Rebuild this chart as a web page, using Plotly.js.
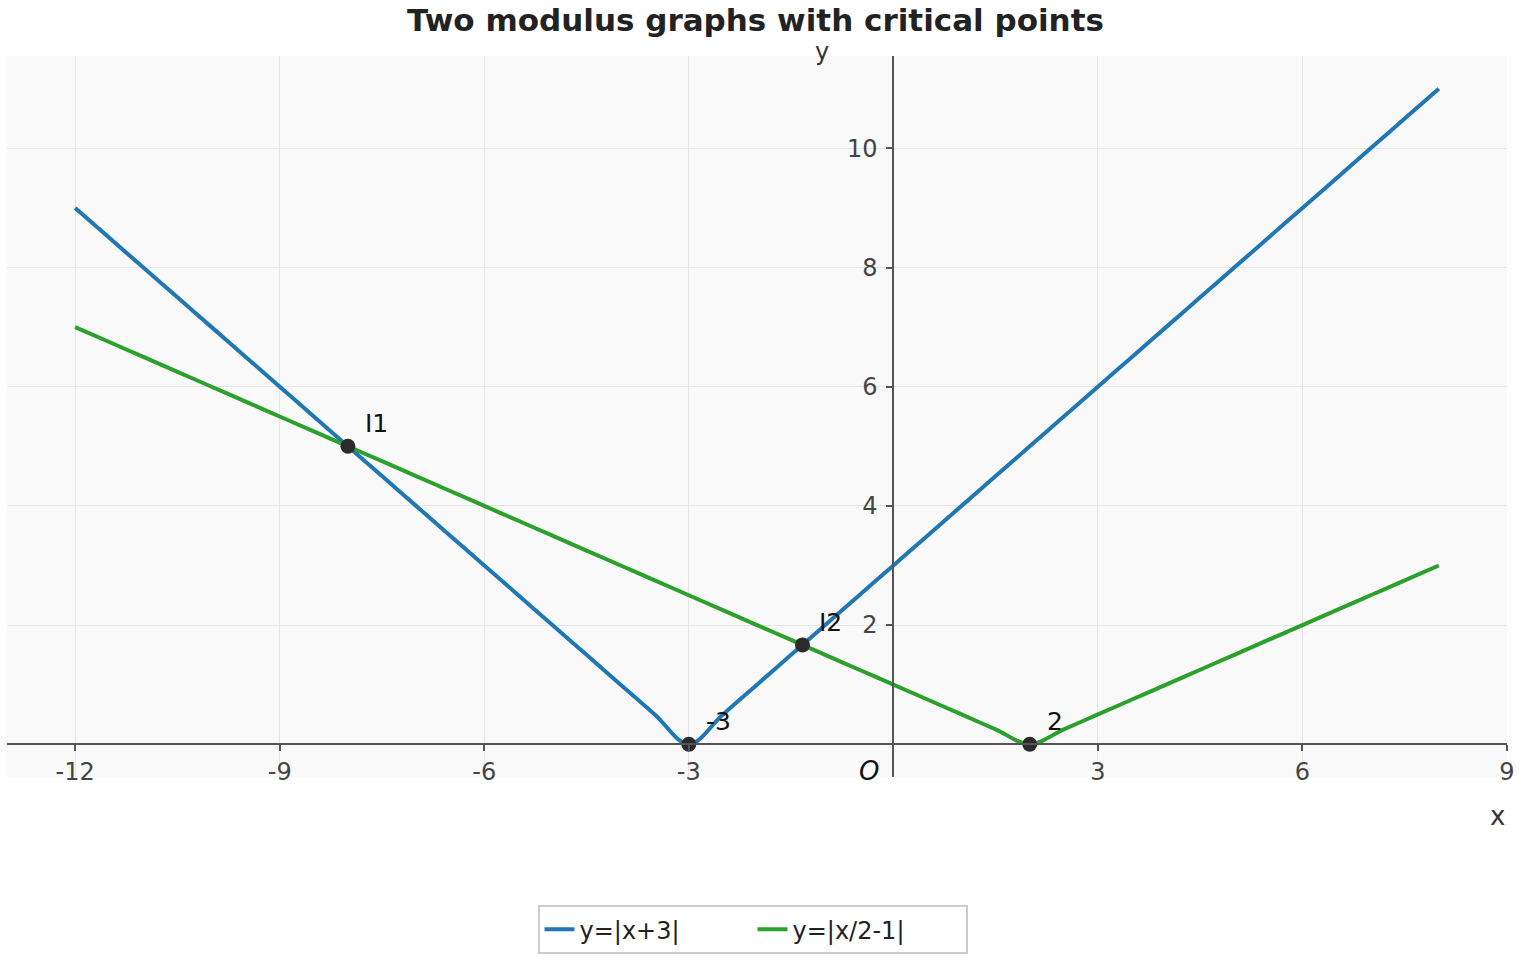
<!DOCTYPE html>
<html>
<head>
<meta charset="utf-8">
<script src="https://cdn.plot.ly/plotly-3.0.1.min.js"></script>
<style>html,body{margin:0;padding:0;background:#fff;}#chart{width:1520px;height:960px;}</style>
</head>
<body>
<div id="chart"></div>
<script>
// ---- data ----
const xs = [-12,-11.5,-11,-10.5,-10,-9.5,-9,-8.5,-8,-7.5,-7,-6.5,-6,-5.5,-5,-4.5,-4,-3.5,-3,-2.5,-2,-1.5,-1,-0.5,0,0.5,1,1.5,2,2.5,3,3.5,4,4.5,5,5.5,6,6.5,7,7.5,8];
const yBlue = [9,8.5,8,7.5,7,6.5,6,5.5,5,4.5,4,3.5,3,2.5,2,1.5,1,0.5,0,0.5,1,1.5,2,2.5,3,3.5,4,4.5,5,5.5,6,6.5,7,7.5,8,8.5,9,9.5,10,10.5,11];
const yGreen = [7,6.75,6.5,6.25,6,5.75,5.5,5.25,5,4.75,4.5,4.25,4,3.75,3.5,3.25,3,2.75,2.5,2.25,2,1.75,1.5,1.25,1,0.75,0.5,0.25,0,0.25,0.5,0.75,1,1.25,1.5,1.75,2,2.25,2.5,2.75,3];
const seriesNames = ["y=|x+3|", "y=|x/2-1|"];
const critX = [-8, -3, -1.3333, 2];
const critY = [5, 0, 1.6667, 0];
const critLabels = ["I1", "-3", "I2", "2"];
const xTickVals = [-12,-9,-6,-3,3,6,9];
const xTickText = ["-12","-9","-6","-3","3","6","9"];
const yTickVals = [2,4,6,8,10];
const yTickText = ["2","4","6","8","10"];
const xRange = [-13, 9];
const yRange = [-0.55, 11.55];

const FONT = "DejaVu Sans, sans-serif";

const traces = [
  {x: xs, y: yBlue, type: "scatter", mode: "lines", name: seriesNames[0],
   line: {color: "#1f77b4", width: 4, shape: "spline"}},
  {x: xs, y: yGreen, type: "scatter", mode: "lines", name: seriesNames[1],
   line: {color: "#2ca02c", width: 4, shape: "spline"}},
  {x: critX, y: critY, type: "scatter", mode: "markers", showlegend: false, cliponaxis: false,
   marker: {color: "#2b2b2b", size: 15}}
];

const labelAnns = critLabels.map((t, i) => ({
  text: t, xref: "x", yref: "y", x: critX[i], y: critY[i],
  xanchor: "left", yanchor: "bottom", xshift: 15, yshift: 6, showarrow: false,
  font: {family: FONT, size: 25, color: "#111"}
}));

const xPos = -yRange[0] / (yRange[1] - yRange[0]);
const yPos = -xRange[0] / (xRange[1] - xRange[0]);

const layout = {
  width: 1520, height: 960,
  margin: {l: 7, r: 13, t: 56, b: 182},
  paper_bgcolor: "#ffffff",
  plot_bgcolor: "#f9f9f9",
  font: {family: FONT, size: 24, color: "#444"},
  title: {text: "<b>Two modulus graphs with critical points</b>", x: 0.497, xanchor: "center",
          yref: "container", y: 0.979, yanchor: "middle",
          font: {family: FONT, size: 31, color: "#222"}},
  xaxis: {range: xRange, tickmode: "array", tickvals: xTickVals, ticktext: xTickText,
          anchor: "free", position: xPos, showline: true, linecolor: "#555", linewidth: 2,
          ticks: "outside", ticklen: 6, tickcolor: "#555", tickwidth: 2,
          showgrid: true, gridcolor: "#e6e6e6", gridwidth: 1, zeroline: false,
          tickfont: {family: FONT, size: 24, color: "#444"}},
  yaxis: {range: yRange, tickmode: "array", tickvals: yTickVals, ticktext: yTickText,
          anchor: "free", position: yPos, showline: true, linecolor: "#555", linewidth: 2,
          ticks: "outside", ticklen: 6, tickcolor: "#555", tickwidth: 2,
          ticklabelstandoff: 4,
          showgrid: true, gridcolor: "#e6e6e6", gridwidth: 1, zeroline: false,
          tickfont: {family: FONT, size: 24, color: "#444"}},
  showlegend: true,
  legend: {orientation: "h", x: 0.497, xanchor: "center", y: -0.21, yanchor: "middle",
           bordercolor: "#cccccc", borderwidth: 2, bgcolor: "#ffffff",
           entrywidth: 168, entrywidthmode: "pixels",
           font: {family: FONT, size: 24, color: "#222"}},
  annotations: labelAnns.concat([
    {text: "<i>O</i>", xref: "x", yref: "y", x: 0, y: 0, xanchor: "right", yanchor: "top",
     xshift: -12, yshift: -10, showarrow: false, font: {family: FONT, size: 26, color: "#111"}},
    {text: "x", xref: "paper", yref: "paper", x: 1, y: 0, xanchor: "right", yanchor: "top",
     xshift: 0, yshift: -22, showarrow: false, font: {family: FONT, size: 26, color: "#333"}},
    {text: "y", xref: "x", yref: "paper", x: 0, y: 1, xanchor: "right", yanchor: "bottom",
     xshift: -62, yshift: -12, showarrow: false, font: {family: FONT, size: 24, color: "#333"}}
  ])
};

Plotly.newPlot("chart", traces, layout, {displayModeBar: false});
</script>
</body>
</html>
